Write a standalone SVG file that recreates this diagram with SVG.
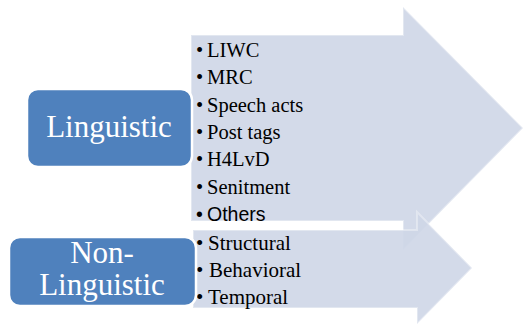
<svg xmlns="http://www.w3.org/2000/svg" width="526" height="325" viewBox="0 0 526 325">
<style>
.arrow{fill:#ced6e7;fill-opacity:0.9;stroke:#ffffff;stroke-opacity:0.35;stroke-width:2}
.box{fill:#4f81bd;stroke:#ffffff;stroke-width:2.5}
.lbl{font-size:31px;fill:#ffffff;text-anchor:middle}
.item{font-size:20.5px;fill:#000000}
.low{font-size:21px}
.sans{font-size:19.5px;fill:#000000}
</style>
<rect width="526" height="325" fill="#ffffff"/>
<g id="connectors">
<polygon id="arrow-linguistic" class="arrow" points="191,35 403,35 403,7 523,128 403,250 403,221 191,221"/>
<polygon id="arrow-nonlinguistic" class="arrow" points="193,230 417,230 417,212 472,268 417,324 417,308 193,308"/>
</g>
<g id="linguistic-items" font-family="Liberation Serif, Times New Roman, Tinos, DejaVu Serif, serif">
<text class="item" y="57"><tspan x="196">•</tspan><tspan x="207">LIWC</tspan></text>
<text class="item" y="84"><tspan x="196">•</tspan><tspan x="207">MRC</tspan></text>
<text class="item" y="112"><tspan x="196">•</tspan><tspan x="207">Speech acts</tspan></text>
<text class="item" y="139"><tspan x="196">•</tspan><tspan x="207">Post tags</tspan></text>
<text class="item" y="166"><tspan x="196">•</tspan><tspan x="207">H4LvD</tspan></text>
<text class="item" y="194"><tspan x="196">•</tspan><tspan x="207">Senitment</tspan></text>
<text class="sans" y="221" font-family="Liberation Sans, Arial, sans-serif"><tspan x="196">•</tspan><tspan x="207">Others</tspan></text>
</g>
<g id="nonlinguistic-items" font-family="Liberation Serif, Times New Roman, Tinos, DejaVu Serif, serif">
<text class="item low" y="250"><tspan x="196">•</tspan><tspan x="208">Structural</tspan></text>
<text class="item low" y="277"><tspan x="196">•</tspan><tspan x="209">Behavioral</tspan></text>
<text class="item low" y="304"><tspan x="196">•</tspan><tspan x="208">Temporal</tspan></text>
</g>
<g id="node-linguistic" font-family="Liberation Serif, Times New Roman, Tinos, DejaVu Serif, serif">
<rect class="box" x="27" y="89" width="165" height="78" rx="11"/>
<text class="lbl" x="109" y="137">Linguistic</text>
</g>
<g id="node-nonlinguistic" font-family="Liberation Serif, Times New Roman, Tinos, DejaVu Serif, serif">
<rect class="box" x="9" y="237" width="187" height="69" rx="11"/>
<text class="lbl" x="102" y="263">Non-</text>
<text class="lbl" x="102" y="295">Linguistic</text>
</g>
</svg>
